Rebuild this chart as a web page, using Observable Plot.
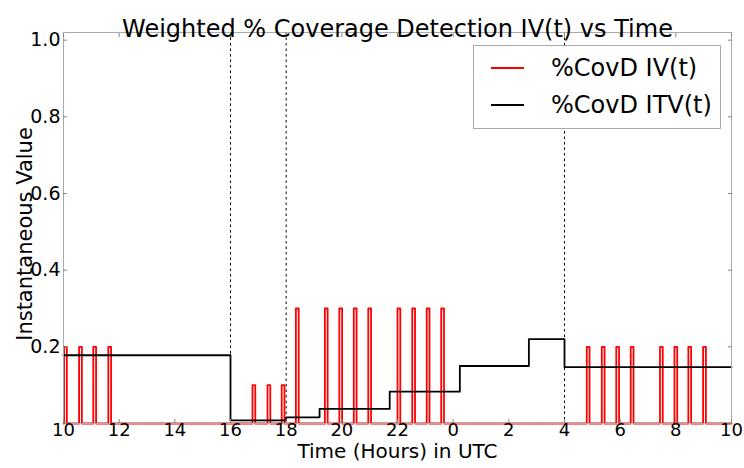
<!DOCTYPE html>
<html><head><meta charset="utf-8">
<script src="https://cdn.jsdelivr.net/npm/d3@7"></script>
<script src="https://cdn.jsdelivr.net/npm/@observablehq/plot@0.6"></script>
<style>
body{margin:0;background:#fff;}
#wrap{position:relative;width:744px;height:468px;font-family:"DejaVu Sans",sans-serif;}
#legend{position:absolute;left:473px;top:45px;width:248px;height:84px;border:1px solid #aaa;background:#fff;box-sizing:border-box;}
.item{position:absolute;left:0;height:30px;width:100%;}
.sw{position:absolute;left:17px;width:33px;top:14px;height:0;border-top:2px solid;}
.lab{position:absolute;left:77px;top:0;font-size:24px;line-height:30px;color:#000;white-space:nowrap;}
</style></head>
<body><div id="wrap"></div>
<script>
// ---- data ----
const seriesNames = ["%CovD IV(t)", "%CovD ITV(t)"];
const seriesColors = ["#ff0000", "#000000"];
const title = "Weighted % Coverage Detection IV(t) vs Time";
const xLabel = "Time (Hours) in UTC";
const yLabel = "Instantaneous Value";
// hours since 00 UTC of day 1 (34 = 10 UTC next day)
const xTicks = [10,12,14,16,18,20,22,24,26,28,30,32,34];
const xTickLabels = ["10","12","14","16","18","20","22","0","2","4","6","8","10"];
const yTicks = [0.2,0.4,0.6,0.8,1.0];
const dashedTimes = [16,18,28,34];
// IV(t) pulses: start, end, height
const pulseStart = [10.02,10.56,11.07,11.61, 16.79,17.33,17.84, 18.35,19.39,19.91,20.43,20.95,22.00,22.53,23.05,23.57, 28.80,29.34,29.86,30.38,31.43,31.95,32.45,32.98];
const pulseEnd   = [10.12,10.66,11.17,11.71, 16.89,17.43,17.94, 18.45,19.49,20.01,20.53,21.05,22.10,22.63,23.15,23.67, 28.90,29.44,29.96,30.48,31.53,32.05,32.55,33.08];
const pulseHeight= [0.2,0.2,0.2,0.2, 0.1,0.1,0.1, 0.3,0.3,0.3,0.3,0.3,0.3,0.3,0.3,0.3, 0.2,0.2,0.2,0.2,0.2,0.2,0.2,0.2];
// ITV(t) step changes
const stepTimes  = [10,16,18,19.2,21.72,24.24,26.72,28,34];
const stepValues = [0.178,0.008,0.016,0.038,0.083,0.150,0.220,0.147,0.147];

// ---- build tables ----
const red = [{t:10, v:0}];
pulseStart.forEach((s,i)=>{
  red.push({t:s,v:0},{t:s,v:pulseHeight[i]},{t:pulseEnd[i],v:pulseHeight[i]},{t:pulseEnd[i],v:0});
});
red.push({t:34, v:0});
const black = stepTimes.map((t,i)=>({t, v:stepValues[i]}));

const fmtX = d => xTickLabels[xTicks.indexOf(d)];
const chart = Plot.plot({
  width:744, height:468,
  marginLeft:63, marginRight:13, marginTop:32, marginBottom:45,
  style:{fontFamily:"DejaVu Sans, sans-serif", background:"#fff", color:"#000", overflow:"visible"},
  x:{domain:[10,34]},
  y:{domain:[0,1.02]},
  marks:[
    Plot.ruleX(dashedTimes,{stroke:"#000", strokeWidth:1, strokeDasharray:"2.5,3"}),
    Plot.line(red,{x:"t", y:"v", stroke:seriesColors[0], strokeWidth:1.8}),
    Plot.line(black,{x:"t", y:"v", curve:"step-after", stroke:seriesColors[1], strokeWidth:1.8}),
    Plot.frame({stroke:"#aaa"}),
    Plot.axisX({ticks:xTicks, tickSize:0, tickPadding:0, fontSize:18, tickFormat:fmtX, label:null}),
    Plot.axisX({anchor:"bottom", ticks:xTicks, tickSize:-4, tickFormat:()=>"", label:null, stroke:"#888"}),
    Plot.axisX({anchor:"top", ticks:xTicks, tickSize:-4, tickFormat:()=>"", label:null, stroke:"#888"}),
    Plot.axisY({ticks:yTicks, tickSize:0, tickPadding:3, fontSize:19, tickFormat:d3.format(".1f"), label:null}),
    Plot.axisY({anchor:"left", ticks:[0,...yTicks], tickSize:-4, tickFormat:()=>"", label:null, stroke:"#888"}),
    Plot.axisY({anchor:"right", ticks:[0,...yTicks], tickSize:-4, tickFormat:()=>"", label:null, stroke:"#888"}),
    Plot.text([title],{frameAnchor:"top", dy:-13, fontSize:24}),
    Plot.text([xLabel],{frameAnchor:"bottom", dy:34, fontSize:20}),
    Plot.text([yLabel],{frameAnchor:"left", textAnchor:"middle", rotate:-90, dx:-38, dy:6, fontSize:21})
  ]
});
const wrap = document.getElementById("wrap");
wrap.appendChild(chart);
const leg = document.createElement("div");
leg.id = "legend";
seriesNames.forEach((n,i)=>{
  const it = document.createElement("div");
  it.className = "item";
  it.style.top = (7 + i*37) + "px";
  it.innerHTML = `<div class="sw" style="border-color:${seriesColors[i]}"></div><div class="lab">${n}</div>`;
  leg.appendChild(it);
});
wrap.appendChild(leg);
</script></body></html>
